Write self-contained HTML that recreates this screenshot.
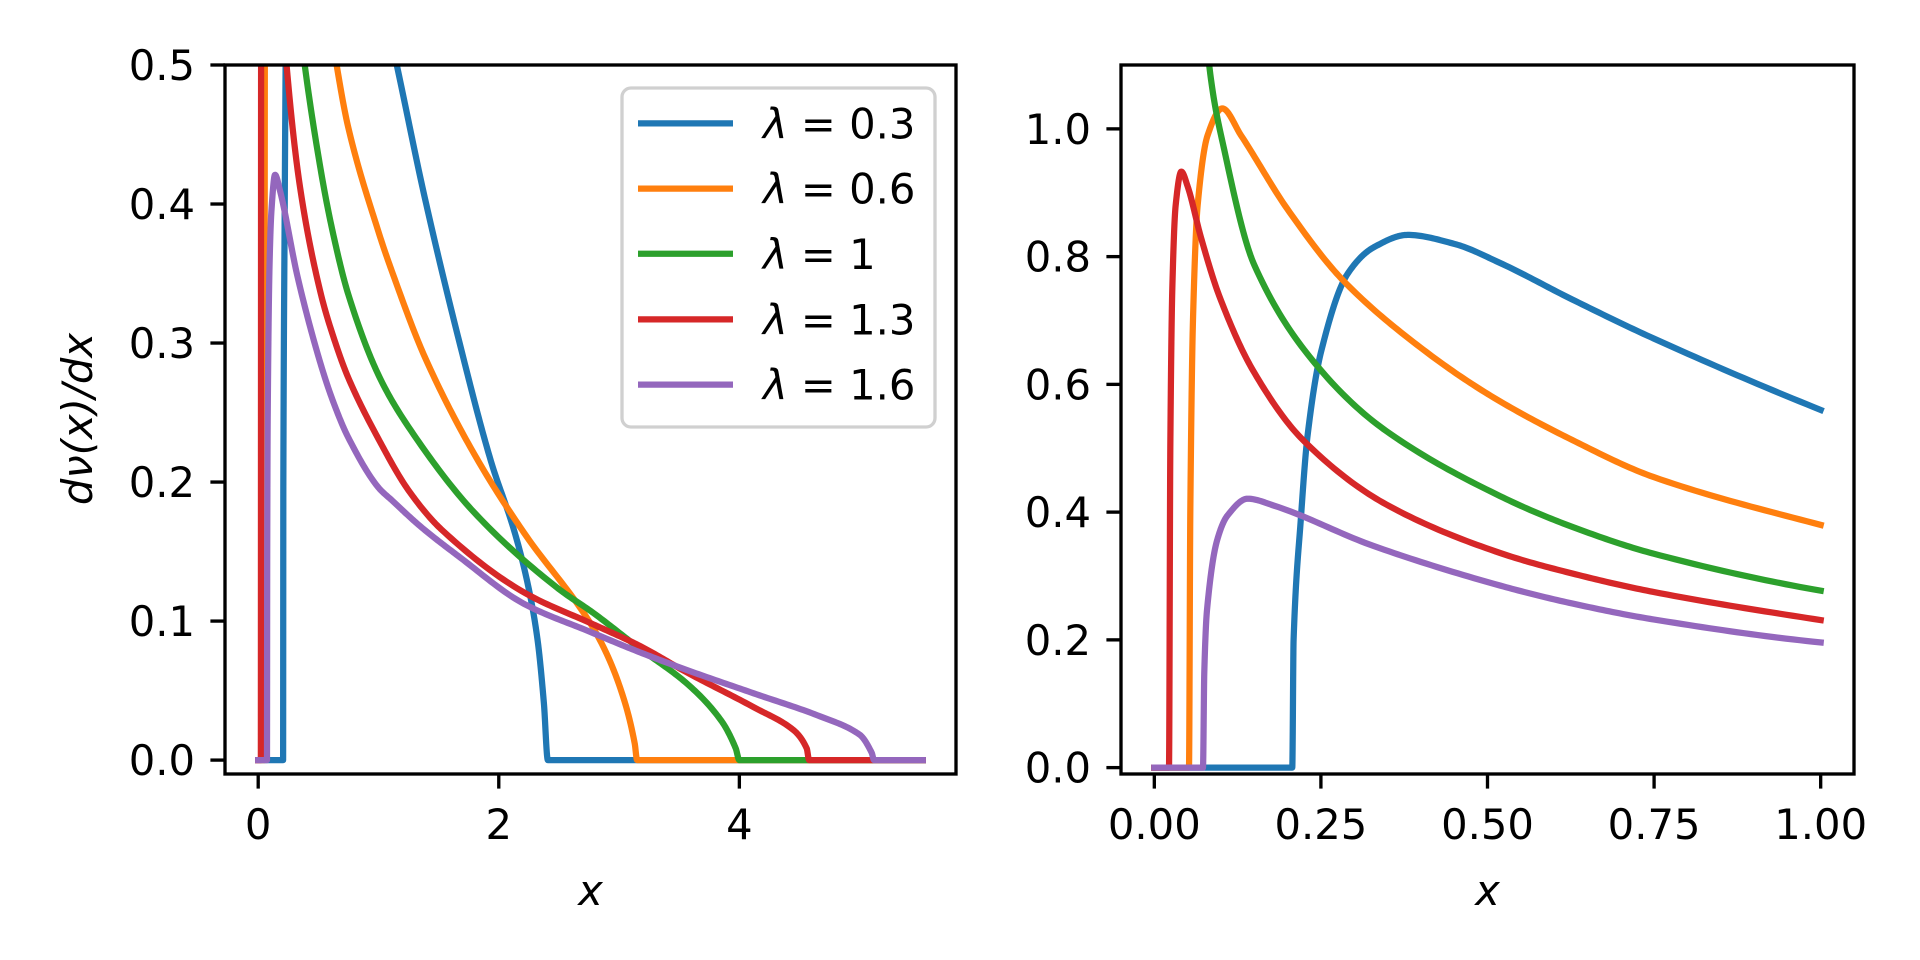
<!DOCTYPE html>
<html><head><meta charset="utf-8"><style>
html,body{margin:0;padding:0;background:#fff;}
svg{display:block;}
text{font-family:"DejaVu Sans","Liberation Sans",sans-serif;fill:#000;}
</style></head><body>
<svg id="fig" width="1920" height="960" viewBox="0 0 1920 960" xmlns="http://www.w3.org/2000/svg">
<defs>
<clipPath id="clipL"><rect x="225" y="65" width="731" height="709"/></clipPath>
<clipPath id="clipR"><rect x="1121" y="65" width="733" height="709"/></clipPath>
</defs>
<rect x="0" y="0" width="1920" height="960" fill="#fff"/>
<g id="axL"></g>
<g id="axR"></g>
</svg>
<script>
const labels = ["λ = 0.3","λ = 0.6","λ = 1","λ = 1.3","λ = 1.6"];
const seriesNames = ["lambda-0.3","lambda-0.6","lambda-1","lambda-1.3","lambda-1.6"];
const colors = ["#1f77b4","#ff7f0e","#2ca02c","#d62728","#9467bd"];
const xBlue = [0,0.207,0.209,0.22,0.23,0.25,0.29,0.33,0.38,0.45,0.519,0.627,0.749,1.0,1.152,1.385,1.66,1.935,2.128,2.24,2.32,2.375,2.408,5.525];
const yBlue = [0,0,0.2,0.391,0.52,0.65,0.773,0.815,0.834,0.82,0.79,0.733,0.672,0.56,0.5,0.4045,0.305,0.215,0.165,0.127,0.088,0.041,0,0];
const xOrange = [0,0.052,0.054,0.058,0.065,0.08,0.102,0.13,0.2,0.284,0.399,0.505,0.627,0.749,1.0,1.11,1.385,1.797,2.21,2.75,2.91,3.05,3.13,3.15,5.525];
const yOrange = [0,0,0.4,0.7,0.88,0.99,1.032,0.99,0.874,0.762,0.658,0.582,0.513,0.455,0.38,0.352,0.29,0.22,0.1635,0.1,0.074,0.041,0.012,0,0];
const xGreen = [0.03,0.05,0.065,0.081,0.105,0.15,0.25,0.348,0.519,0.627,0.749,1.0,1.247,1.797,2.485,2.787,3.16,3.57,3.85,3.97,4.0,5.525];
const yGreen = [3.5,1.9,1.45,1.112,0.967,0.787,0.622,0.527,0.425,0.377,0.335,0.277,0.24,0.178,0.124,0.1058,0.081,0.0546,0.0283,0.0084,0,0];
const xRed = [0,0.022,0.024,0.027,0.032,0.0405,0.05,0.07,0.098,0.148,0.223,0.348,0.519,0.627,0.749,1.0,1.25,1.522,2.21,2.787,3.16,3.57,4.12,4.45,4.56,4.58,5.525];
const yRed = [0,0,0.5,0.75,0.88,0.933,0.91,0.83,0.737,0.622,0.513,0.412,0.336,0.304,0.275,0.231,0.194,0.166,0.1206,0.0976,0.0827,0.0628,0.038,0.0216,0.0084,0,0];
const xPurple = [0,0.073,0.075,0.079,0.094,0.11,0.14,0.18,0.329,0.519,0.627,0.749,1.0,1.11,1.35,1.66,2.21,2.75,3.16,3.57,4.12,4.67,5.0,5.1,5.12,5.525];
const yPurple = [0,0,0.15,0.246,0.355,0.395,0.421,0.41,0.347,0.285,0.257,0.232,0.196,0.187,0.168,0.147,0.1124,0.0926,0.078,0.0646,0.048,0.0315,0.0183,0.0053,0,0];
const xTicksL = [0,2,4];
const xTickLabelsL = ["0","2","4"];
const yTicksL = [0,0.1,0.2,0.3,0.4,0.5];
const yTickLabelsL = ["0.0","0.1","0.2","0.3","0.4","0.5"];
const xTicksR = [0,0.25,0.5,0.75,1.0];
const xTickLabelsR = ["0.00","0.25","0.50","0.75","1.00"];
const yTicksR = [0,0.2,0.4,0.6,0.8,1.0];
const yTickLabelsR = ["0.0","0.2","0.4","0.6","0.8","1.0"];

const XS=[xBlue,xOrange,xGreen,xRed,xPurple], YS=[yBlue,yOrange,yGreen,yRed,yPurple];
const NS="http://www.w3.org/2000/svg";
function mk(tag,attrs,parent){const e=document.createElementNS(NS,tag);for(const k in attrs)e.setAttribute(k,attrs[k]);parent.appendChild(e);return e;}

function smooth(xs,ys,xmax){
  const n=xs.length, d=[], m=new Array(n).fill(0);
  for(let i=0;i<n-1;i++) d.push((ys[i+1]-ys[i])/(xs[i+1]-xs[i]));
  m[0]=d[0]; m[n-1]=d[n-2];
  for(let i=1;i<n-1;i++){ if(d[i-1]*d[i]<=0) m[i]=0; else { m[i]=2/(1/d[i-1]+1/d[i]); } }
  for(let i=0;i<n-1;i++){ if(d[i]===0){m[i]=0;m[i+1]=0;} }
  const out=[];
  for(let i=0;i<n-1;i++){
    if(xs[i]>=xmax) break;
    const h=xs[i+1]-xs[i], steps=24;
    for(let k=0;k<steps;k++){
      const t=k/steps, x=xs[i]+t*h;
      if(x>xmax) break;
      const h00=2*t*t*t-3*t*t+1,h10=t*t*t-2*t*t+t,h01=-2*t*t*t+3*t*t,h11=t*t*t-t*t;
      out.push([x,h00*ys[i]+h10*h*m[i]+h01*ys[i+1]+h11*h*m[i+1]]);
    }
    if(xs[i+1]<=xmax && i===n-2) out.push([xs[n-1],ys[n-1]]);
    if(xs[i+1]===xmax) { out.push([xs[i+1],ys[i+1]]); break; }
  }
  return out;
}

function drawAxes(g,box,xlim,ylim,xt,xtl,yt,ytl,clip,prefix,xmax){
  const sx=v=>box.x+(v-xlim[0])/(xlim[1]-xlim[0])*box.w;
  const sy=v=>box.y+box.h-(v-ylim[0])/(ylim[1]-ylim[0])*box.h;
  const lines=mk('g',{'clip-path':'url(#'+clip+')'},g);
  
  
  for(let s=0;s<5;s++){
    const pts=smooth(XS[s],YS[s],xmax).map(p=>sx(p[0]).toFixed(2)+','+sy(p[1]).toFixed(2)).join(' ');
    const pl=mk('polyline',{points:pts,fill:'none',stroke:colors[s],'stroke-width':6.25,'stroke-linejoin':'round','stroke-linecap':'square'},lines);
    
    
  }
  const fr=mk('rect',{x:box.x,y:box.y,width:box.w,height:box.h,fill:'none',stroke:'#000','stroke-width':3.33},g);
  
  
  xt.forEach((v,i)=>{
    const x=sx(v);
    const t=mk('line',{x1:x,x2:x,y1:box.y+box.h,y2:box.y+box.h+14.6,stroke:'#000','stroke-width':3.33},g);
    
    
    const l=mk('text',{x:x,y:839,'font-size':41.7,'text-anchor':'middle'},g);
    l.textContent=xtl[i];
    
    
  });
  yt.forEach((v,i)=>{
    const y=sy(v);
    const t=mk('line',{x1:box.x-14.6,x2:box.x,y1:y,y2:y,stroke:'#000','stroke-width':3.33},g);
    
    
    const l=mk('text',{x:box.x-30,y:y+15,'font-size':41.7,'text-anchor':'end'},g);
    l.textContent=ytl[i];
    
    
  });
  const xl=mk('text',{x:box.x+box.w/2,y:905,'font-size':41.7,'font-style':'italic','text-anchor':'middle'},g);
  xl.textContent='x';
  
  
}
const gL=document.getElementById('axL'), gR=document.getElementById('axR');
drawAxes(gL,{x:225,y:65,w:731,h:709},[-0.276,5.801],[-0.01,0.5],xTicksL,xTickLabelsL,yTicksL,yTickLabelsL,'clipL','left',100);
drawAxes(gR,{x:1121,y:65,w:733,h:709},[-0.05,1.05],[-0.01,1.1],xTicksR,xTickLabelsR,yTicksR,yTickLabelsR,'clipR','right',1.0);

const yl=mk('text',{x:0,y:0,'font-size':41.7,'font-style':'italic','text-anchor':'middle',transform:'translate(92,419) rotate(-90)'},gL);
yl.textContent='dν(x)/dx';



const lg=mk('g',{},gL);


const lb=mk('rect',{x:622,y:88,width:313,height:339,rx:9,fill:'#fff','fill-opacity':0.8,stroke:'#d0d0d0','stroke-width':3.3},lg);


const rows=[123.4,188.6,253.8,319.4,384.6];
for(let s=0;s<5;s++){
  const ln=mk('line',{x1:638,x2:733,y1:rows[s],y2:rows[s],stroke:colors[s],'stroke-width':6.25},lg);
  
  
  const tx=mk('text',{x:763,y:rows[s]+15,'font-size':41.7},lg);
  const parts=labels[s].split(' = ');
  const t1=mk('tspan',{'font-style':'italic'},tx); t1.textContent='λ';
  const t2=mk('tspan',{},tx); t2.textContent=' = '+parts[1];
  
  
}
</script>
</body></html>
